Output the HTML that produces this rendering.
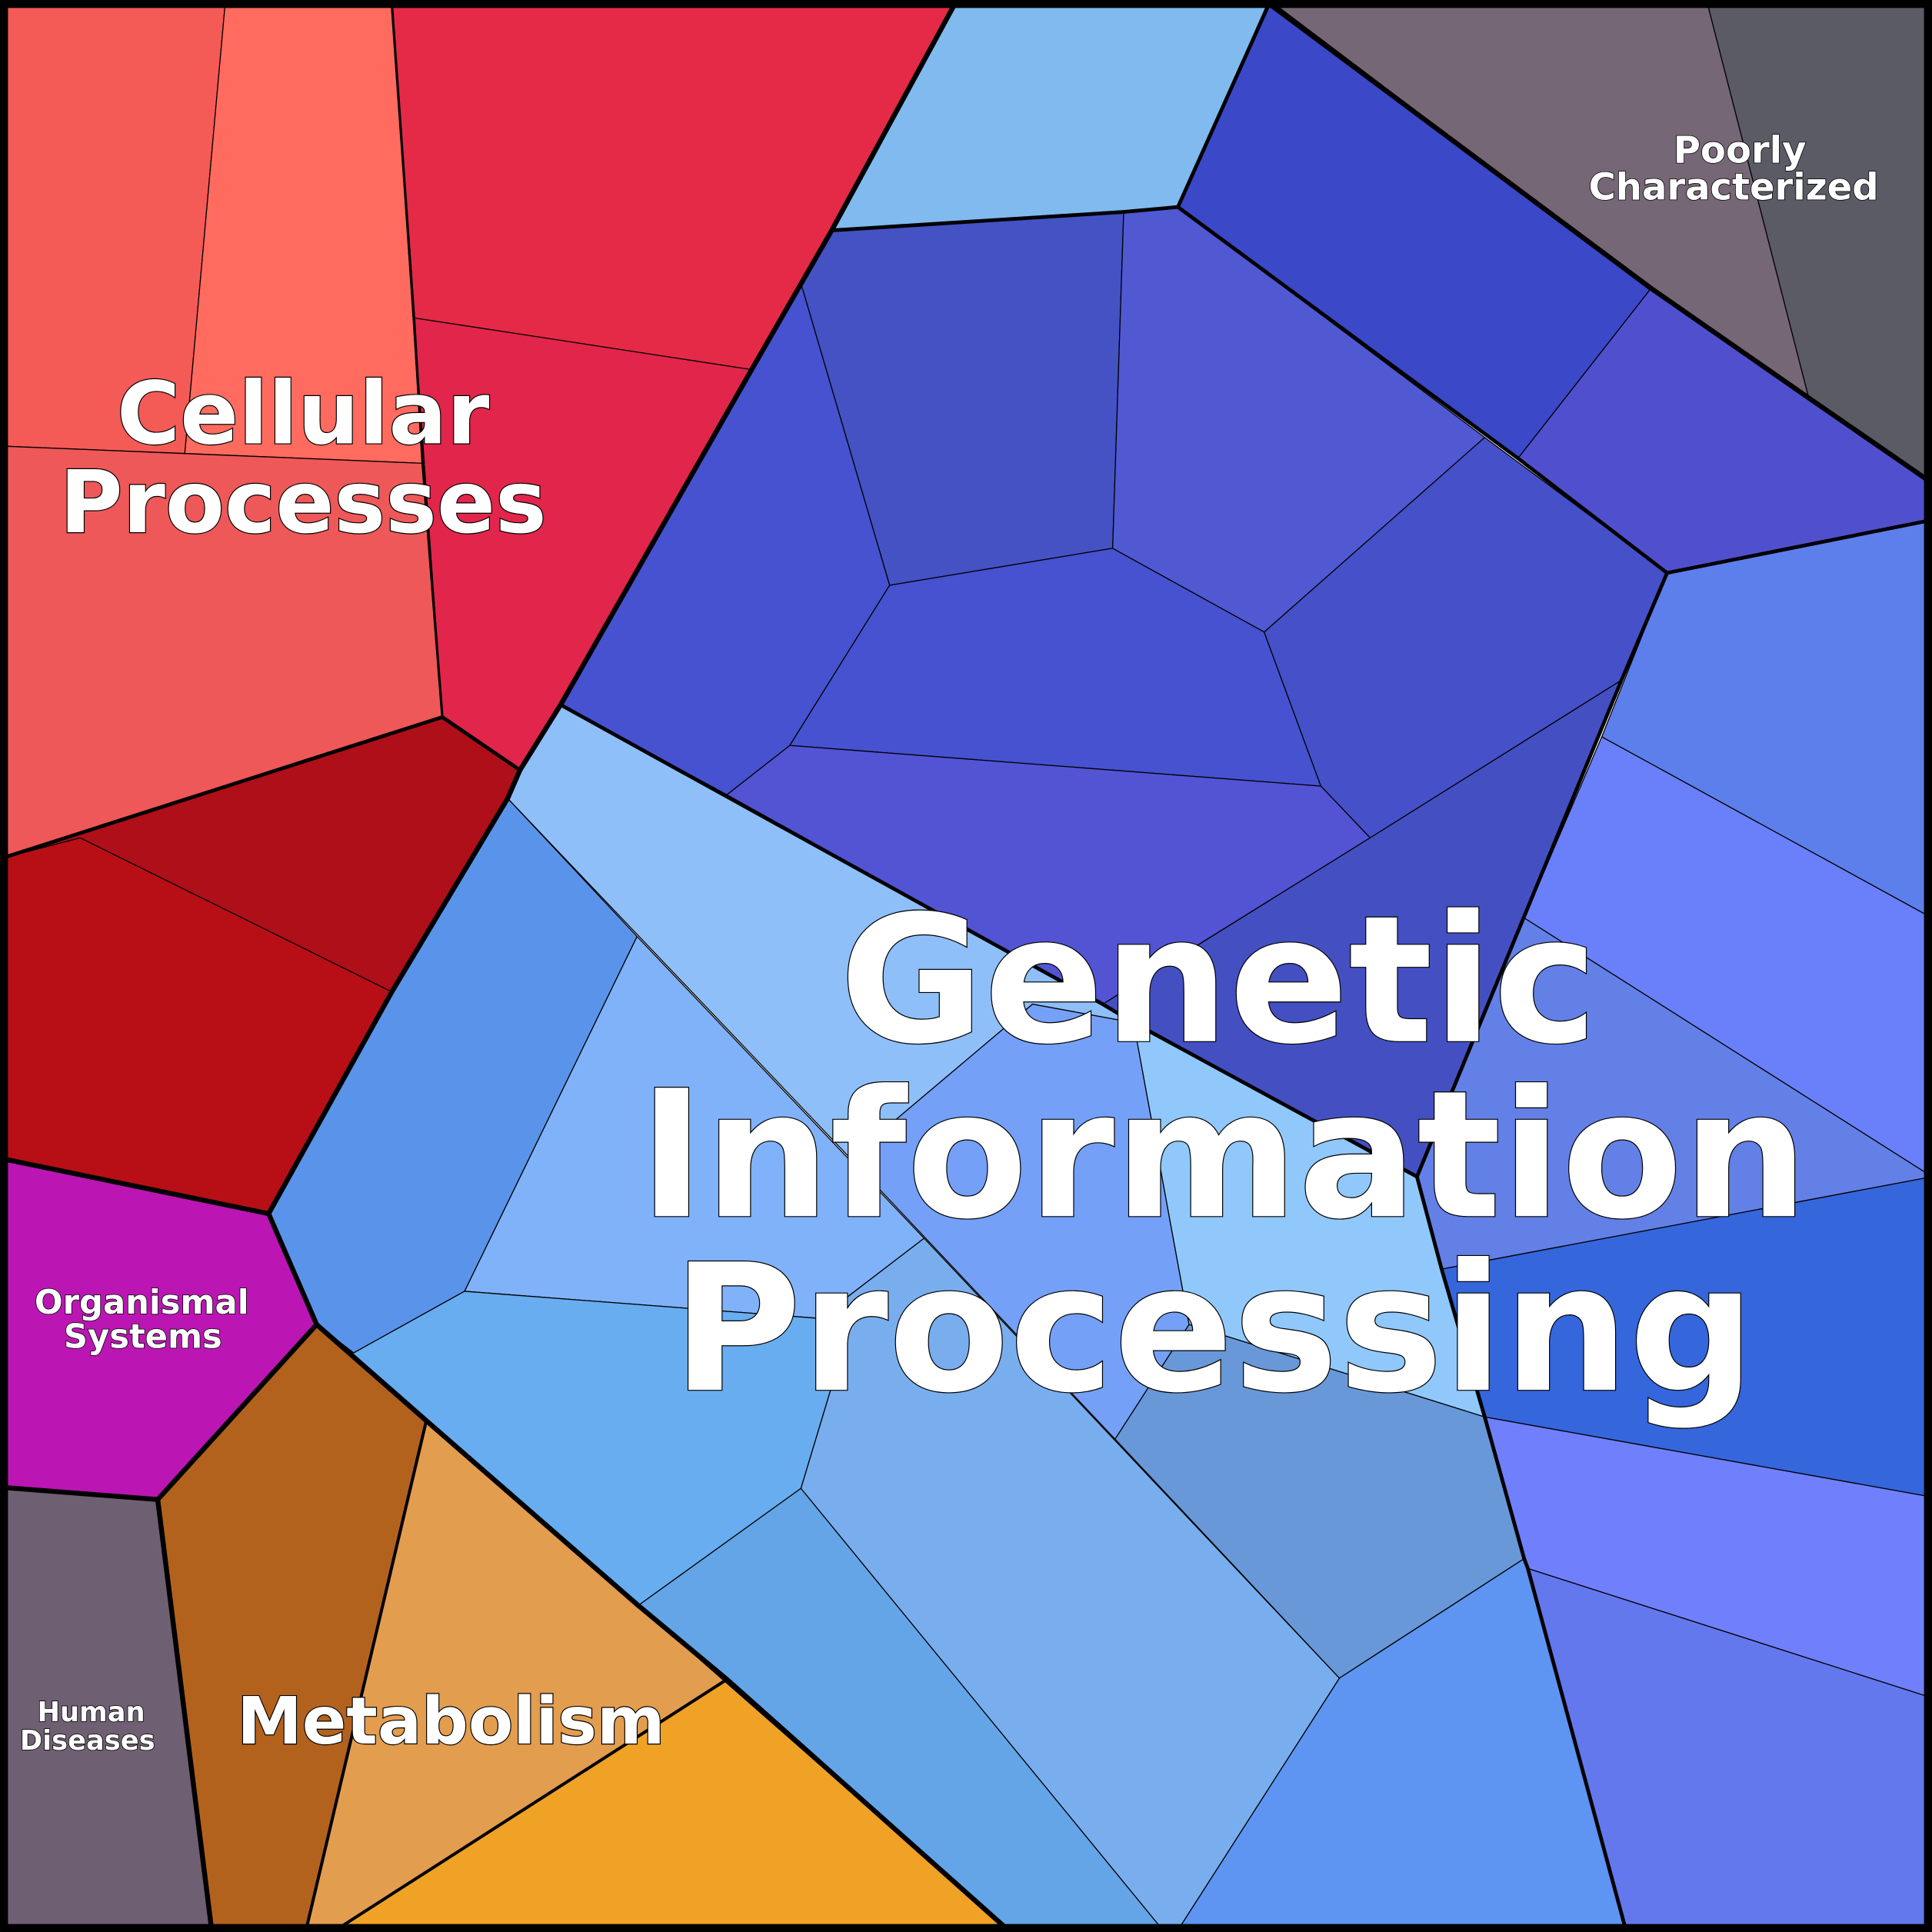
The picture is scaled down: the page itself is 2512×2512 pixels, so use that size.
<!DOCTYPE html>
<html><head><meta charset="utf-8"><style>
html,body{margin:0;padding:0;background:#fff}
svg{display:block}
text{font-family:"DejaVu Sans","Liberation Sans",sans-serif;font-weight:bold;fill:#fff;stroke:#000;paint-order:stroke;text-anchor:middle}
</style></head><body>
<svg width="2512" height="2512" viewBox="0 0 1568 1568" xmlns="http://www.w3.org/2000/svg">
<g stroke="#000" stroke-width="0.8" stroke-linejoin="round">
<polygon fill="#f45b56" points="0,0 183,0 150,368 0,362"/>
<polygon fill="#ff6b5f" points="183,0 318,0 343,376 150,368"/>
<polygon fill="#e42a47" points="318,0 775,0 675,187 610,300 336,258"/>
<polygon fill="#e2254a" points="336,258 610,300 455,572 422,625 359,582"/>
<polygon fill="#ee5858" points="0,362 343,376 359,582 0,697"/>
<polygon fill="#ae0f18" points="0,697 359,582 422,625 412,648 318,805 65,680"/>
<polygon fill="#b80f16" points="0,697 65,680 318,805 218,985 0,940"/>
<polygon fill="#bb16b3" points="0,940 218,985 257,1075 128,1217 0,1207"/>
<polygon fill="#6e5f72" points="0,1207 128,1217 172,1568 0,1568"/>
<polygon fill="#b3621e" points="128,1217 257,1075 346,1153 248,1568 172,1568"/>
<polygon fill="#e39d4f" points="346,1153 590,1363 270,1568 248,1568"/>
<polygon fill="#f0a226" points="590,1363 820,1568 270,1568"/>
<polygon fill="#756775" points="1030,0 1385,0 1468,323 1340,234"/>
<polygon fill="#5b5b66" points="1385,0 1568,0 1568,392 1468,323"/>
<polygon fill="#80baef" points="775,0 1030,0 956,168 675,187"/>
<polygon fill="#3b48c7" points="1030,0 1340,234 1232,372 956,168"/>
<polygon fill="#5050cf" points="1340,234 1568,392 1568,422 1353,465 1232,372"/>
<polygon fill="#4452c4" points="675,187 912,172 903,445 722,475 650,230"/>
<polygon fill="#5059d2" points="912,172 956,168 1205,355 1026,513 903,445"/>
<polygon fill="#4652cf" points="650,230 722,475 641,605 590,645 455,572 610,300 675,187"/>
<polygon fill="#4652d0" points="722,475 903,445 1026,513 1072,638 641,605"/>
<polygon fill="#4650c9" points="1026,513 1205,355 1353,465 1316,552 1112,680 1072,638"/>
<polygon fill="#5254d4" points="641,605 1072,638 1112,680 895,815 590,645"/>
<polygon fill="#4450c2" points="1112,680 1316,552 1150,955 895,815"/>
<polygon fill="#5d7fec" points="1353,465 1568,422 1568,745 1300,598"/>
<polygon fill="#6a80fa" points="1300,598 1568,745 1568,955 1237,745"/>
<polygon fill="#6380e7" points="1237,745 1568,955 1170,1030 1150,955"/>
<polygon fill="#3566dc" points="1170,1030 1568,955 1568,1215 1205,1150"/>
<polygon fill="#7080fd" points="1205,1150 1568,1215 1568,1378 1240,1273 1237,1265"/>
<polygon fill="#6478ee" points="1240,1273 1568,1378 1568,1568 1320,1568"/>
<polygon fill="#8ebff9" points="412,648 422,625 455,572 895,815 920,830 838,815 690,940"/>
<polygon fill="#90c8fc" points="920,830 1150,955 1170,1030 1205,1150 965,1075"/>
<polygon fill="#74a0f8" points="690,940 838,815 920,830 965,1075 905,1168"/>
<polygon fill="#6898d8" points="905,1168 965,1075 1205,1150 1237,1265 1087,1362"/>
<polygon fill="#5e95f2" points="1087,1362 1237,1265 1240,1273 1320,1568 955,1568"/>
<polygon fill="#80b2fa" points="517,760 750,1005 665,1070 377,1048"/>
<polygon fill="#79aeee" points="750,1005 1087,1362 955,1568 945,1568 650,1208 675,1125 665,1070"/>
<polygon fill="#5a94ea" points="412,648 517,760 377,1048 287,1098 257,1075 218,985 318,805"/>
<polygon fill="#68adf0" points="287,1098 377,1048 665,1070 675,1125 650,1208 518,1303 346,1153 257,1075"/>
<polygon fill="#64a5e8" points="518,1303 650,1208 945,1568 820,1568"/>
</g>
<g stroke="#000" fill="none" stroke-linejoin="round" stroke-linecap="round">
<polyline stroke-width="4" points="775,3 675,187 610,300 455,572 422,625 412,648 318,805 218,985 0,940"/>
<polyline stroke-width="4" points="218,985 257,1075 128,1217 0,1207"/>
<polyline stroke-width="4" points="128,1217 172,1568"/>
<polyline stroke-width="4" points="257,1075 346,1153 518,1303 590,1363 820,1568"/>
<polyline stroke-width="4" points="1030,3 1340,234 1468,323 1568,392"/>
<polyline stroke-width="3" points="455,572 895,815 920,830 1150,955 1170,1030 1205,1150 1237,1265 1240,1273 1320,1568"/>
<polyline stroke-width="3" points="675,187 912,172 956,168 1030,3"/>
<polyline stroke-width="3" points="956,168 1232,372 1353,465 1568,422"/>
<polyline stroke-width="3" points="1353,465 1316,552 1150,955"/>
<polyline stroke-width="3" points="0,697 359,582 422,625"/>
<polyline stroke-width="2" points="359,582 343,376 336,258 318,3"/>
<polyline stroke-width="2.5" points="346,1153 248,1568"/>
<polyline stroke-width="2.5" points="590,1363 270,1568"/>
<rect x="3" y="3" width="1562" height="1562" stroke-width="7"/>
</g>
<text x="246" y="360" font-size="70" stroke-width="1.5">Cellular</text>
<text x="246" y="432" font-size="70" stroke-width="1.5">Processes</text>
<text x="989" y="845" font-size="143" stroke-width="1.5">Genetic</text>
<text x="993" y="987" font-size="143" stroke-width="1.5">Information</text>
<text x="985" y="1128" font-size="143" stroke-width="1.5">Processing</text>
<text x="1412" y="132" font-size="30" stroke-width="1">Poorly</text>
<text x="1407" y="162" font-size="30" stroke-width="1">Characterized</text>
<text x="115" y="1066" font-size="27" stroke-width="1">Organismal</text>
<text x="116" y="1094" font-size="27" stroke-width="1">Systems</text>
<text x="74" y="1397" font-size="22" stroke-width="1">Human</text>
<text x="71" y="1420" font-size="22" stroke-width="1">Diseases</text>
<text x="366" y="1415" font-size="53" stroke-width="1.5">Metabolism</text>
</svg>
</body></html>
